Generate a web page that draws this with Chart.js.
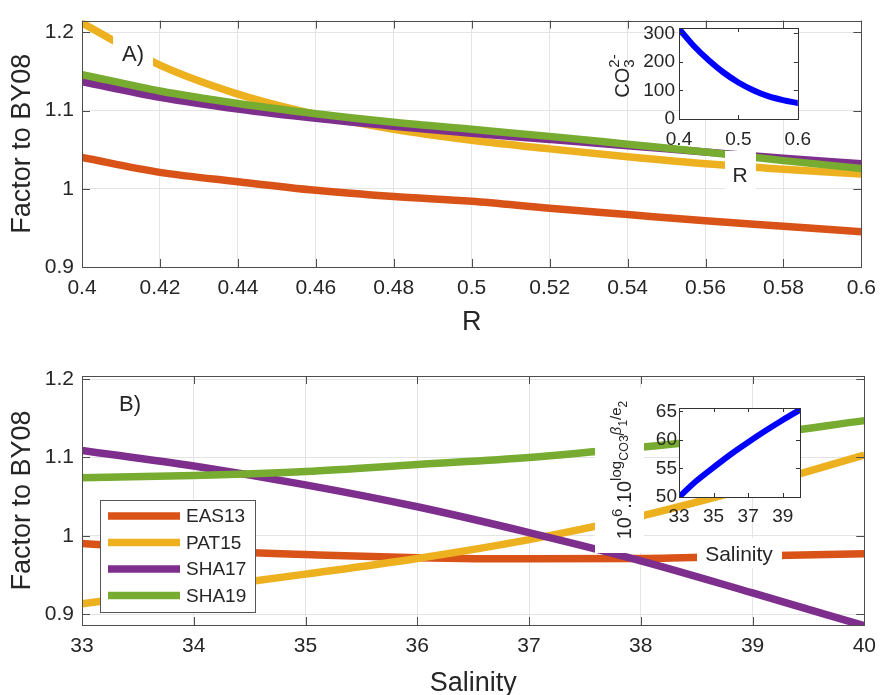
<!DOCTYPE html>
<html>
<head>
<meta charset="utf-8">
<script src="https://cdn.jsdelivr.net/npm/chart.js@4.4.1/dist/chart.umd.min.js"></script>
<style>
  html, body { margin: 0; padding: 0; background: #fff; }
  #wrap { position: relative; width: 885px; height: 695px; overflow: hidden; }
  canvas { position: absolute; }
</style>
</head>
<body>
<div id="wrap">
  <canvas id="topChart" width="885" height="340" style="left:0;top:0"></canvas>
  <canvas id="bottomChart" width="885" height="355" style="left:0;top:340px"></canvas>
  <canvas id="insetTop" width="245" height="195" style="left:575px;top:10px"></canvas>
  <canvas id="insetBottom" width="245" height="200" style="left:580px;top:380px"></canvas>
</div>
<script>
const seriesNames = ['EAS13', 'PAT15', 'SHA17', 'SHA19'];
const seriesColors = ['#D95319', '#EDB120', '#7E2F8E', '#77AC30'];

// panel A: factor vs R
const rValues = [0.40, 0.42, 0.44, 0.46, 0.48, 0.50, 0.52, 0.54, 0.56, 0.58, 0.60];
const eas13ByR = [1.040, 1.021, 1.009, 0.998, 0.990, 0.984, 0.975, 0.967, 0.959, 0.952, 0.945];
const pat15ByR = [1.212, 1.158, 1.121, 1.095, 1.076, 1.062, 1.051, 1.041, 1.032, 1.025, 1.019];
const sha17ByR = [1.137, 1.117, 1.102, 1.090, 1.080, 1.071, 1.063, 1.055, 1.047, 1.039, 1.032];
const sha19ByR = [1.146, 1.125, 1.109, 1.096, 1.085, 1.076, 1.067, 1.057, 1.047, 1.036, 1.026];
const rTicks = [0.4, 0.42, 0.44, 0.46, 0.48, 0.5, 0.52, 0.54, 0.56, 0.58, 0.6];
const factorTicks = [0.9, 1.0, 1.1, 1.2];

// inset A: carbonate vs R
const co3R = [0.400, 0.425, 0.450, 0.475, 0.500, 0.525, 0.550, 0.575, 0.600];
const co3Values = [316, 256, 206, 163, 128, 101, 80, 66, 56];
const co3RTicks = [0.4, 0.5, 0.6];
const co3Ticks = [0, 100, 200, 300];

// panel B: factor vs salinity
const salinity = [33, 34, 35, 36, 37, 38, 39, 40];
const eas13BySal = [0.990, 0.981, 0.976, 0.972, 0.9705, 0.971, 0.974, 0.977];
const pat15BySal = [0.913, 0.932, 0.951, 0.971, 0.995, 1.025, 1.062, 1.103];
const sha17BySal = [1.109, 1.089, 1.065, 1.037, 1.004, 0.968, 0.927, 0.885];
const sha19BySal = [1.074, 1.077, 1.082, 1.091, 1.100, 1.113, 1.128, 1.147];
const salTicks = [33, 34, 35, 36, 37, 38, 39, 40];

// inset B: 10^6 . 10^log... vs salinity
const insetSal = [33, 34, 35, 36, 37, 38, 39, 40];
const logValues = [50.0, 52.8, 55.2, 57.5, 59.6, 61.6, 63.5, 65.3];
const insetSalTicks = [33, 35, 37, 39];
const logTicks = [50, 55, 60, 65];

const FONT = "'Liberation Sans', Arial, Helvetica, sans-serif";
const INK = '#262626';
Chart.defaults.font.family = FONT;
Chart.defaults.color = INK;

const toPoints = (xs, ys) => xs.map((x, i) => ({ x: x, y: ys[i] }));
const fmt = v => String(parseFloat(Number(v).toFixed(3)));

function drawRich(ctx, parts, cx, cy, rot) {
  ctx.save();
  ctx.translate(cx, cy);
  ctx.rotate(rot || 0);
  ctx.textAlign = 'left';
  ctx.textBaseline = 'alphabetic';
  ctx.fillStyle = INK;
  const fontOf = p => (p.it ? 'italic ' : '') + p.s + 'px ' + FONT;
  let total = 0;
  const adv = parts.map(p => {
    ctx.font = fontOf(p);
    const w = p.adv !== undefined ? p.adv : ctx.measureText(p.t).width;
    total += w;
    return w;
  });
  const base = parts[0].s;
  let x = -total / 2;
  parts.forEach((p, i) => {
    ctx.font = fontOf(p);
    ctx.fillText(p.t, x, base * 0.36 + (p.dy || 0));
    x += adv[i];
  });
  ctx.restore();
}

const framePlugin = {
  id: 'frame',
  beforeDatasetsDraw(chart, args, o) {
    if (!o.fill) return;
    const { ctx, chartArea: a } = chart;
    ctx.save();
    ctx.fillStyle = o.fill;
    ctx.fillRect(a.left, a.top, a.width, a.height);
    ctx.restore();
  },
  afterDatasetsDraw(chart, args, o) {
    const { ctx, chartArea: a, scales } = chart;
    const x = scales.x, y = scales.y;
    ctx.save();
    ctx.strokeStyle = o.color;
    ctx.lineWidth = o.width;
    ctx.beginPath();
    x.ticks.forEach(t => {
      const px = Math.round(x.getPixelForValue(t.value)) + 0.5;
      ctx.moveTo(px, a.bottom); ctx.lineTo(px, a.bottom - o.len);
      ctx.moveTo(px, a.top); ctx.lineTo(px, a.top + o.len);
    });
    y.ticks.forEach(t => {
      const py = Math.round(y.getPixelForValue(t.value)) + 0.5;
      ctx.moveTo(a.left, py); ctx.lineTo(a.left + o.len, py);
      ctx.moveTo(a.right, py); ctx.lineTo(a.right - o.len, py);
    });
    ctx.stroke();
    ctx.strokeRect(Math.round(a.left) + 0.5, Math.round(a.top) + 0.5, Math.round(a.width), Math.round(a.height));
    ctx.restore();
  }
};

const notesPlugin = {
  id: 'notes',
  afterDraw(chart, args, o) {
    const ctx = chart.ctx;
    (o.items || []).forEach(it => {
      if (it.box) {
        ctx.fillStyle = '#fff';
        ctx.fillRect(it.box[0], it.box[1], it.box[2], it.box[3]);
      }
      drawRich(ctx, it.parts, it.x, it.y, it.rot);
    });
  }
};

const legendBoxPlugin = {
  id: 'legendBox',
  afterDatasetsDraw(chart, args, o) {
    if (!o.show) return;
    const ctx = chart.ctx;
    ctx.save();
    ctx.fillStyle = '#fff';
    ctx.fillRect(o.x, o.y, o.w, o.h);
    ctx.strokeStyle = '#555';
    ctx.lineWidth = 1;
    ctx.strokeRect(o.x + 0.5, o.y + 0.5, o.w, o.h);
    chart.data.datasets.forEach((ds, i) => {
      const yy = o.y + o.first + i * o.step;
      ctx.strokeStyle = ds.borderColor;
      ctx.lineWidth = ds.borderWidth;
      ctx.beginPath();
      ctx.moveTo(o.lineX0, yy);
      ctx.lineTo(o.lineX1, yy);
      ctx.stroke();
      ctx.fillStyle = INK;
      ctx.font = o.size + 'px ' + FONT;
      ctx.textAlign = 'left';
      ctx.textBaseline = 'middle';
      ctx.fillText(ds.label, o.textX, yy + 1);
    });
    ctx.restore();
  }
};

function fixedTicks(list) {
  return scale => { scale.ticks = list.map(v => ({ value: v })); };
}

function mainChart(id, p) {
  const c = document.getElementById(id);
  const W = c.width, H = c.height, a = p.area;
  return new Chart(c, {
    type: 'line',
    data: {
      datasets: seriesNames.map((name, i) => ({
        label: name,
        data: toPoints(p.xs, p.series[i]),
        borderColor: seriesColors[i],
        backgroundColor: seriesColors[i],
        borderWidth: 7.5,
        pointRadius: 0,
        cubicInterpolationMode: 'monotone',
        order: seriesNames.length - i
      }))
    },
    options: {
      responsive: false,
      animation: false,
      devicePixelRatio: 1,
      layout: { padding: { left: 0, top: a.top, right: W - a.right, bottom: 0 } },
      plugins: {
        legend: { display: false },
        tooltip: { enabled: false },
        frame: { color: '#4d4d4d', width: 1, len: 8 },
        notes: { items: p.notes },
        legendBox: p.legend || { show: false }
      },
      scales: {
        x: {
          type: 'linear', min: p.xMin, max: p.xMax,
          afterBuildTicks: fixedTicks(p.xTicks),
          afterFit: s => { s.height = H - a.bottom; },
          grid: { color: '#e4e4e4', drawTicks: false },
          border: { display: false },
          ticks: { font: { size: 21 }, color: INK, padding: 9, maxRotation: 0, autoSkip: false, callback: v => fmt(v) },
          title: { display: true, text: p.xTitle, color: INK, font: { size: 27, lineHeight: 1 }, padding: { top: 0, bottom: p.xTitlePad } }
        },
        y: {
          type: 'linear', min: p.yMin, max: p.yMax,
          afterBuildTicks: fixedTicks(p.yTicks),
          afterFit: s => { s.width = a.left; },
          grid: { color: '#e4e4e4', drawTicks: false },
          border: { display: false },
          ticks: { font: { size: 21 }, color: INK, padding: 8, callback: v => fmt(v) },
          title: { display: true, text: 'Factor to BY08', color: INK, font: { size: 27, lineHeight: 1 }, padding: { top: 9, bottom: 0 } }
        }
      }
    },
    plugins: [framePlugin, legendBoxPlugin, notesPlugin]
  });
}

function insetChart(id, p) {
  const c = document.getElementById(id);
  const W = c.width, H = c.height, a = p.area;
  return new Chart(c, {
    type: 'line',
    data: {
      datasets: [{
        data: toPoints(p.xs, p.ys),
        borderColor: '#0000FF',
        borderWidth: 6,
        borderCapStyle: 'round',
        pointRadius: 0,
        cubicInterpolationMode: 'monotone'
      }]
    },
    options: {
      responsive: false,
      animation: false,
      devicePixelRatio: 1,
      layout: { padding: { left: 0, top: a.top, right: W - a.right, bottom: 0 } },
      plugins: {
        legend: { display: false },
        tooltip: { enabled: false },
        frame: { color: '#333', width: 1, len: 4, fill: '#fff' },
        notes: { items: p.notes }
      },
      scales: {
        x: {
          type: 'linear', min: p.xMin, max: p.xMax,
          afterBuildTicks: fixedTicks(p.xTicks),
          afterFit: s => { s.height = H - a.bottom; },
          grid: { color: '#e0e0e0', drawTicks: false },
          border: { display: false },
          ticks: { font: { size: 19 }, color: INK, padding: p.xPad, maxRotation: 0, autoSkip: false, callback: v => fmt(v) },
          title: { display: false }
        },
        y: {
          type: 'linear', min: p.yMin, max: p.yMax,
          afterBuildTicks: fixedTicks(p.yTicks),
          afterFit: s => { s.width = a.left; },
          grid: { color: '#e0e0e0', drawTicks: false },
          border: { display: false },
          ticks: { font: { size: 19 }, color: INK, padding: p.yPad, callback: v => fmt(v) },
          title: { display: false }
        }
      }
    },
    plugins: [framePlugin, notesPlugin]
  });
}

mainChart('topChart', {
  area: { left: 82, top: 17, right: 866, bottom: 267 },
  xs: rValues,
  series: [eas13ByR, pat15ByR, sha17ByR, sha19ByR],
  xMin: 0.4, xMax: 0.6, xTicks: rTicks,
  yMin: 0.9, yMax: 1.215, yTicks: factorTicks,
  xTitle: 'R', xTitlePad: 4,
  notes: [{ parts: [{ t: 'A)', s: 22 }], x: 133, y: 53, box: [113, 36, 40, 34] }]
});

mainChart('bottomChart', {
  area: { left: 82, top: 36, right: 866, bottom: 285 },
  xs: salinity,
  series: [eas13BySal, pat15BySal, sha17BySal, sha19BySal],
  xMin: 33, xMax: 40, xTicks: salTicks,
  yMin: 0.886, yMax: 1.204, yTicks: factorTicks,
  xTitle: 'Salinity', xTitlePad: -2,
  notes: [{ parts: [{ t: 'B)', s: 22 }], x: 130, y: 63 }],
  legend: { show: true, x: 100, y: 160, w: 155, h: 112, first: 16, step: 26.5, lineX0: 108, lineX1: 180, textX: 186, size: 19 }
});

insetChart('insetTop', {
  area: { left: 104, top: 18, right: 225, bottom: 109 },
  xs: co3R, ys: co3Values,
  xMin: 0.4, xMax: 0.6, xTicks: co3RTicks,
  yMin: 0, yMax: 319, yTicks: co3Ticks,
  xPad: 9, yPad: 4,
  notes: [
    { parts: [{ t: 'R', s: 21 }], x: 165, y: 164, box: [150, 141, 31, 44] },
    { parts: [{ t: 'CO', s: 20 }, { t: '3', s: 15, dy: 5, adv: 0 }, { t: '2-', s: 15, dy: -10 }], x: 47, y: 66, rot: -Math.PI / 2 }
  ]
});

insetChart('insetBottom', {
  area: { left: 99, top: 28, right: 220, bottom: 117 },
  xs: insetSal, ys: logValues,
  xMin: 33, xMax: 40, xTicks: insetSalTicks,
  yMin: 50, yMax: 65.6, yTicks: logTicks,
  xPad: 8, yPad: 2,
  notes: [
    { parts: [{ t: 'Salinity', s: 21 }], x: 159, y: 173, box: [117, 158, 85, 30] },
    { parts: [
        { t: '10', s: 20 }, { t: '6', s: 15, dy: -9 }, { t: '.10', s: 20 },
        { t: 'log', s: 15, dy: -10 }, { t: 'CO3', s: 12.5, dy: -3 },
        { t: 'β', s: 15, dy: -10, it: true }, { t: '1', s: 12, dy: -4 },
        { t: '/e', s: 15, dy: -10 }, { t: '2', s: 12, dy: -4 }
      ], x: 44, y: 90, rot: -Math.PI / 2, box: [15, 8, 49, 165] }
  ]
});
</script>
</body>
</html>
